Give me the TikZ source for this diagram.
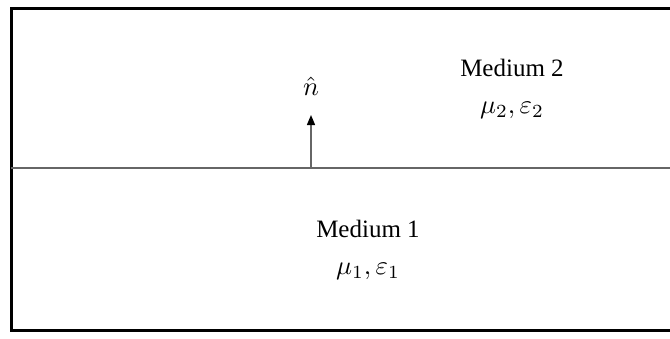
\documentclass[tikz,border=0pt]{standalone}
\usepackage{fontspec}
\setmainfont{Liberation Serif}
\usetikzlibrary{arrows.meta}
\tikzset{
  lbl/.style={font=\fontsize{10}{12}\selectfont, inner sep=0pt, scale=2.5},
  mlbl/.style={font=\fontsize{10}{12}\selectfont, inner sep=0pt, scale=2.65},
  border/.style={line width=3pt, black},
  iface/.style={line width=1.4pt, black!60},
  normal/.style={line width=1.4pt, black!60, -{Triangle[length=10pt,width=8pt,black]}}
}
\begin{document}
\begin{tikzpicture}[x=1pt,y=-1pt]
\useasboundingbox (0,0) rectangle (670,338);
\draw[border] (690,8) -- (11,8) -- (11,330) -- (690,330);
\coordinate (L) at (11,168);
\coordinate (R) at (690,168);
\draw[iface] (L) -- (R);
\coordinate (base) at (311,168);
\coordinate (tip) at (311,115);
\draw[normal] (base) -- (tip);
\node[mlbl] (n) at (311,86) {$\hat{n}$};
\node[lbl] (m2) at (512,68) {Medium 2};
\node[mlbl] (p2) at (512,110) {$\mu_2,\varepsilon_2$};
\node[lbl] (m1) at (368,229) {Medium 1};
\node[mlbl] (p1) at (368,271) {$\mu_1,\varepsilon_1$};
\end{tikzpicture}
\end{document}
